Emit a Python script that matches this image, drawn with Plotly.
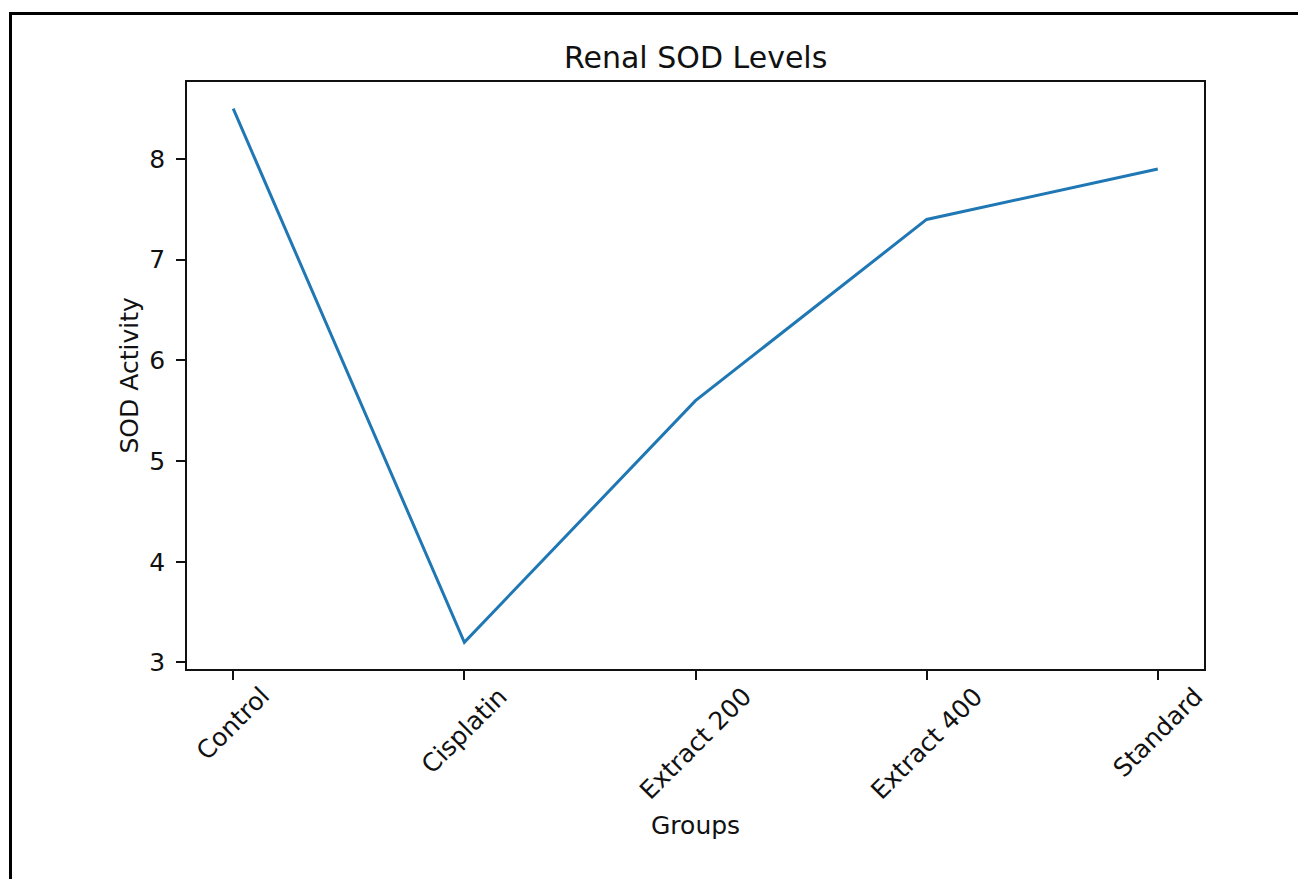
import plotly.graph_objects as go

# ---- data ----
groups = ["Control", "Cisplatin", "Extract 200", "Extract 400", "Standard"]
sod_activity = [8.5, 3.2, 5.6, 7.4, 7.9]
y_ticks = [3, 4, 5, 6, 7, 8]

title_text = "Renal SOD Levels"
x_title = "Groups"
y_title = "SOD Activity"

# ---- layout constants (page body has an 8px margin) ----
OFF = 8
W, H = 1306 - OFF, 879 - OFF
L, R, T = 187 - OFF, 102, 82 - OFF
PW = 1204 - 187
PH = 669 - 82
B = H - T - PH
FONT = "DejaVu Sans"

ymin, ymax = min(sod_activity), max(sod_activity)
pad = 0.05 * (ymax - ymin)

fig = go.Figure()
fig.add_trace(go.Scatter(
    x=groups, y=sod_activity, mode="lines",
    line=dict(color="#1f77b4", width=3),
    showlegend=False, hoverinfo="x+y",
))

axis_common = dict(
    showgrid=False, zeroline=False, showline=True, mirror=True,
    linecolor="#111111", linewidth=1.8,
    ticks="outside", ticklen=9, tickwidth=1.8, tickcolor="#111111",
    tickfont=dict(family=FONT, size=25, color="#111111"),
)

fig.update_xaxes(type="category", range=[-0.2, len(groups) - 0.8],
                 showticklabels=False, **axis_common)
fig.update_yaxes(range=[ymin - pad, ymax + pad], tickvals=y_ticks,
                 ticklabelstandoff=6, **axis_common)

annotations = []
# rotated category labels, centred under ticks (matplotlib style)
for g in groups:
    annotations.append(dict(
        x=g, y=0, xref="x", yref="paper", text=g, showarrow=False,
        textangle=-45, xanchor="center", yanchor="top", yshift=-10,
        font=dict(family=FONT, size=25, color="#111111"),
    ))
annotations.append(dict(
    x=0.5, y=0, xref="paper", yref="paper", text=x_title, showarrow=False,
    xanchor="center", yanchor="middle", yshift=-(825 - 669),
    font=dict(family=FONT, size=25, color="#111111"),
))
annotations.append(dict(
    x=0, y=0.5, xref="paper", yref="paper", text=y_title, showarrow=False,
    textangle=-90, xanchor="center", yanchor="middle", xshift=-(187 - 129),
    font=dict(family=FONT, size=25, color="#111111"),
))
annotations.append(dict(
    x=0.5, y=1, xref="paper", yref="paper", text=title_text, showarrow=False,
    xanchor="center", yanchor="middle", yshift=(82 - 57),
    font=dict(family=FONT, size=30, color="#111111"),
))

def px_to_paper_x(px):
    # px in reference-image coordinates
    return (px - 187) / PW

def px_to_paper_y(py):
    return (669 - py) / PH

shapes = [
    dict(type="line", xref="paper", yref="paper",
         x0=px_to_paper_x(10.5), x1=px_to_paper_x(10.5),
         y0=px_to_paper_y(12), y1=px_to_paper_y(900),
         line=dict(color="black", width=3)),
    dict(type="line", xref="paper", yref="paper",
         x0=px_to_paper_x(9), x1=px_to_paper_x(1320),
         y0=px_to_paper_y(13.5), y1=px_to_paper_y(13.5),
         line=dict(color="black", width=3)),
]

fig.update_layout(
    width=W, height=H,
    margin=dict(l=L, r=R, t=T, b=B, pad=0),
    paper_bgcolor="white", plot_bgcolor="white",
    annotations=annotations, shapes=shapes,
    font=dict(family=FONT, color="#111111"),
)

fig.write_html("out.html")
